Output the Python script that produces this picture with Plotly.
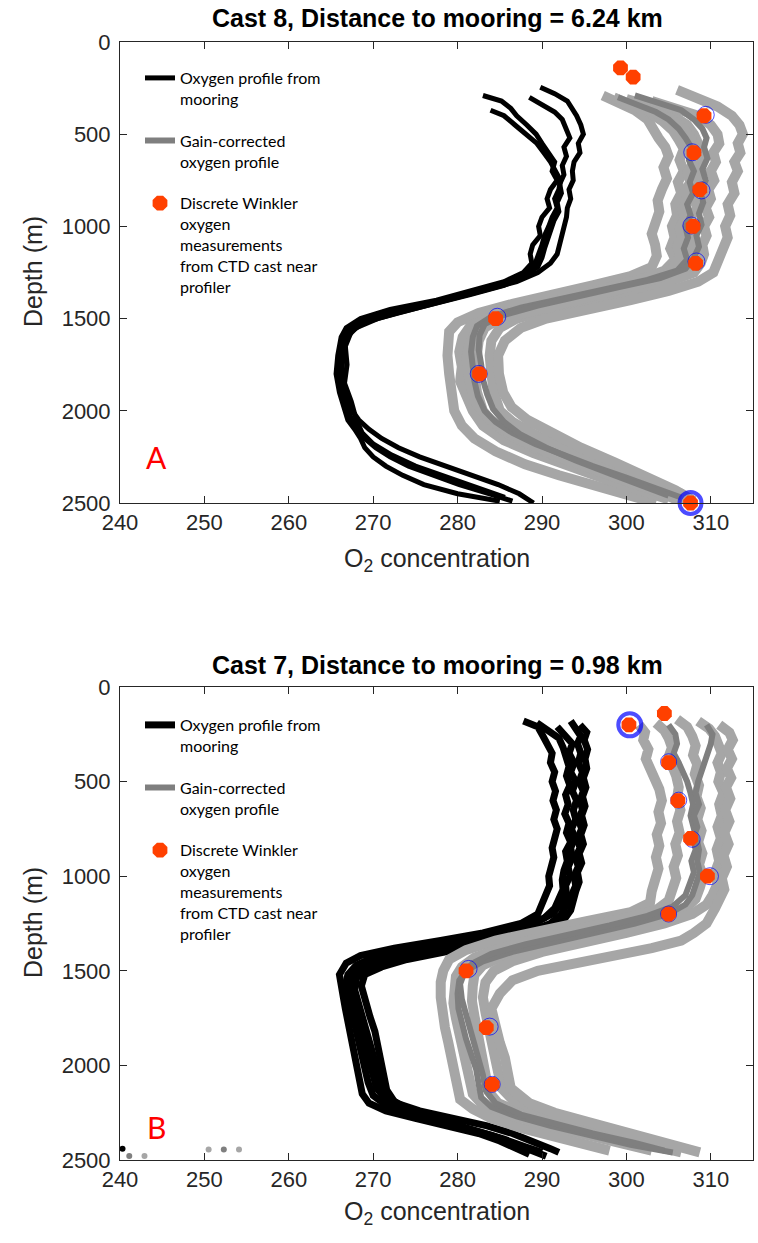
import plotly.graph_objects as go

W, H = 758, 1243

# ---------------- Cast 8 (panel A) ----------------
a_title = "Cast 8, Distance to mooring = 6.24 km"

# Oxygen profiles from the mooring: (depth m, O2)
a_moor1 = [(290, 283.0), (320, 285.2), (360, 286.3), (400, 287.0), (450, 288.2), (500, 289.3), (550, 290.0),
           (600, 290.8), (650, 291.5), (700, 291.2), (750, 291.8), (800, 291.0), (850, 290.6), (900, 290.9),
           (950, 290.0), (1000, 289.6), (1050, 289.8), (1100, 288.9), (1150, 288.6), (1200, 288.8), (1250, 287.8),
           (1300, 285.5), (1350, 281.5), (1400, 277.5), (1450, 272.0), (1500, 268.5), (1550, 266.8), (1600, 266.2),
           (1700, 265.8), (1800, 265.6), (1900, 266.0), (2000, 266.6), (2050, 267.0), (2100, 267.8), (2150, 268.5),
           (2200, 269.0), (2250, 270.0), (2300, 271.5), (2350, 273.5), (2400, 276.0), (2450, 280.0), (2490, 285.0)]
a_moor2 = [(370, 283.9), (400, 285.5), (450, 286.8), (500, 288.0), (550, 289.4), (600, 290.2), (650, 291.0),
           (700, 291.6), (750, 292.2), (800, 292.0), (850, 291.5), (900, 291.8), (950, 291.2), (1000, 290.8),
           (1050, 290.3), (1100, 290.0), (1150, 289.6), (1200, 289.2), (1250, 288.4), (1300, 286.3), (1350, 282.5),
           (1400, 278.5), (1450, 273.5), (1500, 269.5), (1550, 267.3), (1600, 266.6), (1700, 266.2), (1800, 266.0),
           (1900, 266.4), (2000, 267.0), (2100, 268.0), (2150, 269.0), (2200, 270.3), (2250, 272.0), (2300, 274.2),
           (2350, 277.0), (2400, 280.2), (2450, 283.8), (2490, 286.5)]
a_moor3 = [(245, 289.8), (280, 291.5), (320, 293.0), (360, 293.6), (400, 294.1), (450, 294.6), (500, 294.9),
           (550, 294.3), (600, 294.5), (650, 293.8), (700, 293.6), (750, 293.7), (800, 293.2), (850, 293.4),
           (900, 293.0), (950, 292.9), (1000, 292.6), (1050, 292.4), (1100, 292.0), (1150, 291.8), (1200, 291.0),
           (1250, 289.5), (1300, 287.0), (1350, 283.0), (1400, 278.8), (1450, 274.5), (1500, 270.5), (1550, 268.0),
           (1600, 266.9), (1700, 266.4), (1800, 266.3), (1900, 266.8), (2000, 267.5), (2050, 268.3), (2100, 269.5),
           (2150, 271.0), (2200, 273.0), (2250, 275.5), (2300, 278.5), (2350, 281.8), (2400, 284.8), (2450, 287.3),
           (2500, 289.0)]
a_moor4 = [(300, 288.5), (340, 290.0), (380, 291.5), (420, 292.4), (470, 292.8), (520, 293.3), (570, 292.6),
           (620, 292.9), (670, 292.4), (720, 292.6), (770, 292.1), (820, 292.3), (870, 291.8), (920, 292.0),
           (970, 291.4), (1020, 291.0), (1070, 290.7), (1120, 290.3), (1170, 290.0), (1220, 289.5), (1270, 288.0),
           (1320, 285.5), (1370, 281.5), (1420, 277.0), (1470, 272.8), (1520, 269.0), (1570, 267.4), (1650, 266.7),
           (1750, 266.9), (1850, 266.6), (1950, 267.4), (2050, 268.0), (2120, 268.7), (2180, 270.0), (2240, 272.2),
           (2300, 275.0), (2360, 278.8), (2420, 282.5), (2470, 285.6)]

# Gain-corrected profiles (light grey)
a_gain1 = [(290, 297.2), (330, 299.5), (370, 301.0), (420, 302.5), (470, 303.0), (520, 303.8), (570, 304.6),
           (620, 305.0), (680, 304.4), (740, 304.8), (800, 304.2), (860, 303.7), (920, 303.9), (980, 303.3),
           (1040, 303.0), (1100, 303.4), (1160, 303.6), (1220, 303.0), (1270, 300.5), (1320, 296.0), (1370, 291.0),
           (1420, 286.5), (1470, 282.5), (1520, 280.0), (1570, 279.0), (1620, 278.9), (1700, 278.8), (1800, 279.0),
           (1900, 279.2), (2000, 279.6), (2080, 280.5), (2150, 282.0), (2220, 284.5), (2290, 288.0), (2350, 292.0),
           (2410, 296.5), (2460, 300.5), (2500, 303.5)]
a_gain2 = [(300, 298.5), (340, 300.8), (380, 302.6), (430, 304.3), (480, 305.5), (530, 306.2), (580, 306.8),
           (640, 306.3), (700, 306.8), (760, 306.1), (820, 306.5), (880, 305.8), (940, 306.0), (1000, 305.4),
           (1060, 305.7), (1120, 305.2), (1180, 305.8), (1240, 304.5), (1290, 301.5), (1340, 297.0), (1390, 292.5),
           (1440, 288.0), (1490, 284.0), (1540, 281.5), (1600, 280.6), (1680, 280.2), (1760, 280.5), (1840, 280.3),
           (1920, 281.0), (2000, 281.8), (2080, 283.0), (2160, 285.5), (2230, 289.0), (2300, 293.0), (2370, 297.5),
           (2430, 301.5), (2480, 305.0)]
a_gain3 = [(310, 300.0), (350, 303.0), (400, 305.5), (450, 307.2), (500, 308.0), (550, 308.6), (600, 309.0),
           (650, 308.4), (700, 309.0), (750, 308.3), (800, 308.7), (850, 308.0), (900, 308.4), (950, 307.6),
           (1000, 307.9), (1050, 307.4), (1100, 307.8), (1150, 307.2), (1200, 307.5), (1250, 306.0), (1300, 302.5),
           (1350, 298.0), (1400, 293.0), (1450, 288.5), (1500, 285.0), (1550, 283.2), (1620, 282.5), (1700, 282.3),
           (1800, 282.0), (1900, 282.3), (2000, 283.0), (2070, 284.3), (2140, 286.5), (2210, 289.5), (2280, 293.5),
           (2350, 298.0), (2420, 302.5), (2470, 305.5), (2510, 307.6)]
a_gain4 = [(320, 303.0), (360, 306.0), (400, 308.5), (450, 310.0), (500, 310.8), (550, 311.0), (600, 310.3),
           (650, 310.6), (700, 310.0), (750, 310.4), (800, 309.7), (850, 310.0), (900, 309.4), (950, 309.8),
           (1000, 309.2), (1050, 309.5), (1100, 309.0), (1150, 309.2), (1200, 308.8), (1250, 308.0), (1300, 305.0),
           (1350, 300.5), (1400, 295.5), (1450, 291.0), (1500, 287.0), (1550, 285.0), (1620, 284.0), (1700, 283.8),
           (1800, 284.0), (1900, 284.3), (2000, 285.0), (2060, 286.5), (2120, 288.8), (2180, 291.5), (2250, 295.5),
           (2320, 299.5), (2390, 303.5), (2450, 306.5), (2500, 308.0)]
a_gain5 = [(260, 306.0), (300, 308.5), (350, 310.8), (400, 312.5), (450, 313.4), (500, 313.8), (550, 313.2),
           (600, 313.5), (650, 312.8), (700, 313.2), (760, 312.5), (820, 312.8), (880, 312.0), (940, 312.3),
           (1000, 311.7), (1060, 312.0), (1120, 311.4), (1180, 311.0), (1250, 310.3), (1300, 308.5), (1350, 305.0),
           (1400, 300.5), (1450, 295.5), (1500, 290.5), (1550, 287.5), (1620, 285.6), (1700, 284.8), (1800, 284.9),
           (1900, 285.4), (1980, 286.4), (2050, 288.3), (2120, 291.0), (2200, 294.6), (2280, 298.6), (2360, 302.6),
           (2430, 305.8), (2490, 308.0)]
a_gain6 = [(330, 299.5), (370, 302.5), (410, 305.0), (460, 306.5), (510, 307.5), (560, 308.0), (610, 307.5),
           (660, 307.9), (710, 307.2), (760, 307.6), (810, 306.9), (860, 307.3), (910, 306.6), (960, 306.9),
           (1010, 306.3), (1060, 306.6), (1110, 306.0), (1160, 306.4), (1210, 305.8), (1260, 305.0), (1310, 302.0),
           (1360, 297.5), (1410, 292.5), (1460, 288.0), (1510, 284.5), (1560, 282.3), (1640, 281.4), (1720, 281.0),
           (1800, 281.2), (1880, 281.6), (1960, 282.2), (2040, 283.6), (2110, 285.8), (2180, 288.5), (2250, 292.0),
           (2320, 296.0), (2390, 300.5), (2450, 304.5), (2500, 307.0)]

# Gain-corrected profiles (dark grey)
a_gain_dk1 = [(300, 299.0), (340, 301.5), (380, 303.5), (420, 305.0), (470, 306.2), (520, 307.0), (580, 307.8),
              (640, 307.4), (700, 308.0), (760, 307.5), (820, 307.9), (880, 307.2), (940, 307.6), (1000, 307.0),
              (1060, 307.3), (1120, 306.8), (1180, 307.2), (1240, 306.0), (1290, 302.5), (1340, 297.5),
              (1390, 292.5), (1440, 287.5), (1490, 284.0), (1540, 282.3), (1600, 281.8), (1680, 281.6),
              (1760, 281.8), (1840, 282.0), (1920, 282.4), (2000, 283.2), (2060, 284.5), (2120, 286.5),
              (2180, 289.2), (2240, 292.5), (2300, 296.0), (2360, 299.8), (2420, 303.5), (2470, 306.5)]
a_gain_dk2 = [(290, 301.0), (330, 304.0), (370, 306.5), (420, 308.0), (470, 309.0), (520, 309.5), (570, 309.2),
              (630, 309.6), (690, 309.0), (750, 309.4), (810, 308.8), (870, 309.1), (930, 308.6), (990, 308.9),
              (1050, 308.3), (1110, 308.6), (1170, 308.0), (1230, 307.0), (1280, 304.0), (1330, 299.0),
              (1380, 294.0), (1430, 289.5), (1480, 285.5), (1530, 283.2), (1590, 282.6), (1670, 282.5),
              (1750, 282.8), (1830, 283.0), (1910, 283.5), (1990, 284.2), (2060, 285.5), (2130, 287.5),
              (2200, 290.5), (2270, 294.0), (2340, 298.0), (2400, 301.5), (2460, 305.0)]

# Discrete Winkler samples and profile values at those depths
a_winkler = [(140, 299.3), (190, 300.8), (400, 309.2), (600, 308.0), (800, 308.7), (1000, 307.9), (1200, 308.2),
             (1500, 284.5), (1800, 282.6), (2500, 307.6)]
a_ring = [(395, 309.4), (598, 307.8), (805, 308.9), (995, 307.7), (1190, 308.3), (1490, 284.7), (1800, 282.5),
          (2500, 307.6)]
a_ring_size = [17, 17, 17, 17, 17, 17, 17, 22]

# ---------------- Cast 7 (panel B) ----------------
b_title = "Cast 7, Distance to mooring = 0.98 km"

b_moor1 = [(180, 287.8), (210, 289.5), (250, 290.0), (300, 290.6), (350, 291.2), (400, 291.0), (450, 291.5),
           (500, 291.2), (550, 291.6), (600, 291.3), (650, 291.7), (700, 291.4), (750, 291.8), (800, 291.5),
           (850, 291.2), (900, 291.4), (950, 291.0), (1000, 290.8), (1050, 290.9), (1100, 290.4), (1150, 290.0),
           (1200, 289.5), (1250, 287.5), (1300, 283.0), (1340, 278.0), (1380, 272.5), (1420, 268.5), (1460, 266.8),
           (1520, 266.0), (1600, 266.2), (1650, 266.5), (1700, 266.7), (1800, 267.1), (1900, 267.6), (2000, 268.0),
           (2050, 268.3), (2100, 268.5), (2150, 268.7), (2200, 269.5), (2240, 271.5), (2280, 275.0), (2320, 279.0),
           (2360, 282.5), (2400, 285.0), (2440, 287.0), (2470, 288.5)]
b_moor2 = [(190, 289.4), (230, 290.8), (270, 292.0), (320, 292.5), (370, 292.8), (420, 293.2), (470, 292.9),
           (520, 293.3), (570, 292.8), (620, 293.1), (670, 292.7), (720, 293.2), (770, 292.9), (820, 293.4),
           (870, 292.8), (920, 293.0), (970, 292.6), (1020, 292.4), (1070, 292.5), (1120, 292.1), (1170, 291.5),
           (1220, 290.3), (1270, 288.0), (1310, 284.5), (1350, 279.5), (1390, 274.0), (1430, 270.0), (1470, 268.0),
           (1520, 267.0), (1560, 266.8), (1620, 267.0), (1700, 267.4), (1780, 267.8), (1860, 268.2), (1940, 268.6),
           (2020, 269.0), (2090, 269.4), (2160, 270.0), (2210, 271.5), (2250, 274.0), (2290, 277.5), (2330, 281.0),
           (2370, 284.0), (2410, 286.5), (2450, 289.0), (2480, 290.5)]
b_moor3 = [(180, 293.4), (220, 294.0), (260, 294.6), (300, 294.2), (350, 294.6), (400, 294.3), (450, 294.8),
           (500, 294.4), (550, 294.9), (600, 294.5), (650, 294.8), (700, 294.3), (750, 294.7), (800, 294.2),
           (850, 294.5), (900, 294.0), (950, 294.3), (1000, 293.8), (1050, 294.0), (1100, 293.5), (1150, 293.0),
           (1200, 292.3), (1250, 291.0), (1290, 288.5), (1330, 285.0), (1370, 280.0), (1410, 275.0), (1450, 271.0),
           (1490, 269.0), (1540, 268.0), (1600, 267.8), (1680, 268.3), (1760, 268.8), (1840, 269.5), (1920, 270.0),
           (2000, 270.5), (2080, 270.8), (2150, 271.3), (2200, 272.8), (2240, 275.5), (2280, 279.5), (2320, 283.5),
           (2360, 286.5), (2400, 289.0), (2440, 291.0), (2460, 292.0)]
b_moor4 = [(200, 294.5), (240, 295.3), (280, 295.0), (330, 295.4), (380, 295.1), (430, 295.3), (480, 294.9),
           (530, 295.2), (580, 294.8), (630, 295.1), (680, 294.7), (730, 295.0), (780, 294.6), (830, 294.9),
           (880, 294.4), (930, 294.7), (980, 294.2), (1030, 294.4), (1080, 294.0), (1130, 293.8), (1180, 293.4),
           (1230, 292.6), (1280, 290.5), (1320, 287.5), (1360, 283.0), (1400, 278.5), (1440, 274.0), (1480, 271.0),
           (1520, 269.0), (1580, 268.6), (1660, 269.0), (1740, 269.6), (1820, 270.2), (1900, 270.6), (1980, 271.0),
           (2060, 271.3), (2130, 271.6), (2190, 272.5), (2240, 274.5), (2290, 278.0), (2340, 282.0), (2390, 285.5),
           (2430, 288.0), (2460, 290.0)]
b_moor5 = [(210, 291.8), (250, 292.5), (300, 293.6), (350, 293.2), (400, 293.8), (450, 293.4), (500, 294.0),
           (550, 293.6), (600, 294.1), (650, 293.7), (700, 294.0), (750, 293.5), (800, 293.9), (850, 293.4),
           (900, 293.6), (950, 293.1), (1000, 293.3), (1050, 292.8), (1100, 292.9), (1150, 292.2), (1200, 291.2),
           (1250, 289.0), (1290, 286.5), (1330, 282.5), (1370, 277.5), (1410, 273.0), (1450, 269.8), (1500, 268.0),
           (1560, 267.3), (1640, 267.5), (1720, 268.0), (1800, 268.5), (1880, 269.0), (1960, 269.6), (2040, 270.0),
           (2120, 270.4), (2180, 271.5), (2230, 273.5), (2280, 277.0), (2330, 281.0), (2380, 284.5), (2420, 287.0),
           (2450, 289.0)]

b_gain1 = [(200, 301.5), (240, 302.2), (280, 302.0), (330, 302.6), (380, 302.3), (430, 302.8), (480, 303.4),
           (540, 303.9), (600, 304.2), (660, 303.8), (720, 304.1), (780, 303.6), (840, 303.9), (900, 303.5),
           (960, 303.8), (1020, 303.3), (1080, 303.0), (1140, 302.8), (1190, 300.5), (1240, 295.0), (1290, 289.5),
           (1340, 284.5), (1390, 281.0), (1440, 279.0), (1500, 278.3), (1560, 278.0), (1640, 278.0), (1720, 278.2),
           (1800, 278.5), (1880, 278.9), (1960, 279.3), (2040, 279.6), (2120, 279.8), (2180, 280.3), (2230, 281.8),
           (2280, 284.0), (2330, 287.5), (2380, 291.5), (2420, 295.5), (2450, 298.0)]
b_gain2 = [(190, 303.5), (230, 304.5), (270, 305.0), (320, 305.4), (370, 305.0), (420, 305.6), (470, 305.9),
           (530, 306.2), (590, 306.0), (650, 306.4), (710, 306.0), (770, 306.3), (830, 305.8), (890, 306.1),
           (950, 305.6), (1010, 305.9), (1070, 305.4), (1130, 305.0), (1180, 303.5), (1230, 299.5), (1280, 294.5),
           (1330, 289.5), (1380, 285.0), (1430, 282.0), (1480, 280.5), (1530, 279.8), (1590, 279.6), (1670, 279.5),
           (1750, 279.8), (1830, 280.2), (1910, 280.7), (1990, 281.2), (2070, 281.5), (2150, 281.8), (2210, 283.0),
           (2260, 286.0), (2310, 290.0), (2360, 294.5), (2410, 299.5), (2450, 303.0)]
b_gain3 = [(170, 306.0), (210, 307.2), (260, 307.8), (310, 308.2), (360, 307.9), (410, 308.4), (460, 308.1),
           (520, 308.6), (580, 308.3), (640, 308.8), (700, 308.4), (760, 308.9), (820, 308.5), (880, 309.0),
           (940, 308.6), (1000, 309.1), (1060, 308.7), (1120, 308.2), (1170, 307.0), (1220, 304.0), (1270, 299.5),
           (1320, 294.5), (1370, 289.5), (1420, 285.5), (1470, 283.0), (1520, 282.0), (1580, 281.8), (1660, 281.7),
           (1740, 282.0), (1820, 282.3), (1900, 282.7), (1980, 283.1), (2060, 283.4), (2140, 283.7), (2200, 284.8),
           (2250, 287.5), (2300, 291.5), (2350, 296.0), (2400, 301.0), (2440, 305.0), (2460, 306.5)]
b_gain4 = [(180, 308.5), (220, 309.8), (260, 310.5), (300, 310.9), (350, 311.3), (400, 310.8), (450, 311.2),
           (500, 310.9), (560, 311.5), (620, 311.0), (680, 311.3), (740, 310.8), (800, 311.2), (860, 310.7),
           (920, 311.0), (980, 310.5), (1040, 310.8), (1100, 310.2), (1150, 309.5), (1200, 307.8), (1250, 304.5),
           (1300, 300.0), (1350, 295.0), (1400, 290.0), (1450, 286.5), (1500, 284.3), (1560, 283.3), (1640, 283.0),
           (1720, 283.3), (1800, 283.7), (1880, 284.1), (1960, 284.5), (2040, 284.8), (2120, 285.2), (2180, 286.5),
           (2230, 289.0), (2280, 292.5), (2330, 296.5), (2380, 300.5), (2420, 304.0), (2450, 306.0)]
b_gain5 = [(200, 311.0), (240, 312.2), (280, 312.6), (330, 312.0), (380, 312.5), (430, 311.9), (480, 312.4),
           (530, 311.8), (590, 312.3), (650, 311.7), (710, 312.2), (770, 311.6), (830, 312.1), (890, 311.5),
           (950, 311.9), (1010, 311.3), (1070, 311.6), (1120, 310.9), (1170, 310.5), (1210, 310.0), (1250, 309.5),
           (1300, 308.0), (1340, 306.5), (1380, 303.0), (1420, 298.5), (1460, 293.5), (1500, 289.5), (1550, 286.5),
           (1620, 285.0), (1700, 284.0), (1800, 284.4), (1880, 285.0), (1960, 285.6), (2040, 286.0), (2120, 286.3),
           (2200, 288.5), (2250, 291.5), (2300, 295.5), (2350, 300.0), (2400, 304.5), (2440, 307.5), (2460, 308.7)]

b_gain_dk1 = [(200, 305.0), (250, 305.8), (300, 306.0), (350, 305.6), (400, 306.2), (450, 306.8), (500, 307.2),
              (560, 307.6), (620, 307.9), (680, 307.6), (740, 308.0), (800, 308.3), (860, 308.6), (920, 308.4),
              (980, 308.7), (1040, 308.2), (1100, 307.8), (1150, 307.0), (1200, 305.0), (1250, 301.0),
              (1300, 296.0), (1350, 291.0), (1400, 286.5), (1450, 283.0), (1500, 281.0), (1550, 280.2),
              (1620, 280.0), (1700, 280.1), (1780, 280.5), (1860, 281.0), (1940, 281.6), (2020, 282.2),
              (2100, 282.5), (2170, 282.8), (2220, 284.0), (2270, 287.0), (2320, 291.0), (2370, 295.5),
              (2420, 300.5), (2460, 305.5)]
b_gain_dk2 = [(200, 309.5), (250, 310.2), (300, 310.0), (350, 309.6), (400, 309.2), (450, 308.8), (500, 308.5),
              (560, 308.2), (620, 308.6), (680, 308.0), (740, 308.4), (800, 307.9), (860, 308.2), (920, 307.7),
              (980, 308.0), (1040, 307.5), (1100, 307.0), (1160, 305.5), (1210, 302.5), (1260, 298.0),
              (1310, 293.0), (1360, 288.0), (1410, 284.0), (1460, 281.8), (1510, 280.8), (1570, 280.3),
              (1650, 280.5), (1730, 281.0), (1810, 281.5), (1890, 282.0), (1970, 282.6), (2050, 283.0),
              (2130, 283.3), (2200, 284.5), (2260, 287.5), (2310, 291.5), (2360, 296.0), (2410, 301.0),
              (2450, 304.5)]

# Stray near-bottom samples at the low end of the axis
b_stray_black = [(2440, 240.3)]
b_stray_dark = [(2479, 241.1), (2445, 252.3)]
b_stray_light = [(2479, 242.9), (2445, 250.5), (2445, 254.1)]

b_winkler = [(140, 304.5), (200, 300.3), (400, 305.0), (600, 306.1), (800, 307.6), (1000, 309.6), (1200, 305.0),
             (1500, 281.0), (1800, 283.4), (2100, 284.1)]
b_ring = [(200, 300.4), (395, 305.0), (598, 306.2), (805, 307.8), (1000, 309.9), (1200, 305.0), (1490, 281.3),
          (1795, 283.8), (2100, 284.1)]
b_ring_size = [23, 16, 16, 16, 17, 16, 17, 17, 16]

# ---------------- Axes ----------------
x_ticks = [240, 250, 260, 270, 280, 290, 300, 310]
depth_ticks = [0, 500, 1000, 1500, 2000, 2500]
x_range = [240, 315]
depth_range = [2500, 0]

BLACK = "#000000"
LIGHT = "#a6a6a6"
DARK = "#7f7f7f"
ORANGE = "#ff4000"
BLUE = "#0000ff"
AXIS = "#262626"

fig = go.Figure()


def add_profile(pairs, color, width, xa, ya, name=None, group=None, legend="legend"):
    depth = [p[0] for p in pairs]
    o2 = [p[1] for p in pairs]
    fig.add_trace(go.Scatter(
        x=o2, y=depth, mode="lines", xaxis=xa, yaxis=ya,
        line=dict(color=color, width=width),
        name=name or "", showlegend=name is not None,
        legendgroup=group, legend=legend, hoverinfo="skip"))


def add_points(pairs, color, size, xa, ya):
    fig.add_trace(go.Scatter(
        x=[p[1] for p in pairs], y=[p[0] for p in pairs], mode="markers", xaxis=xa, yaxis=ya,
        cliponaxis=False, marker=dict(color=color, size=size, line=dict(width=0)),
        showlegend=False, hoverinfo="skip"))


def draw_panel(moor, moor_width, light, dark, rings, ring_sizes, winkler, xa, ya, legend):
    for i, prof in enumerate(moor):
        add_profile(prof, BLACK, moor_width, xa, ya,
                    name="Oxygen profile from<br>mooring" if i == 0 else None,
                    group="moor", legend=legend)
    for prof in light:
        add_profile(prof, LIGHT, 10, xa, ya)
    for i, prof in enumerate(dark):
        add_profile(prof, DARK, 6, xa, ya,
                    name="Gain-corrected<br>oxygen profile" if i == 0 else None,
                    group="gain", legend=legend)
    fig.add_trace(go.Scatter(
        x=[p[1] for p in rings], y=[p[0] for p in rings], mode="markers",
        xaxis=xa, yaxis=ya, cliponaxis=False, showlegend=False, hoverinfo="skip",
        marker=dict(symbol="circle-open", size=ring_sizes, color=BLUE,
                    line=dict(color=BLUE, width=[4 if s > 20 else 1 for s in ring_sizes]))))
    fig.add_trace(go.Scatter(
        x=[p[1] for p in winkler], y=[p[0] for p in winkler], mode="markers",
        xaxis=xa, yaxis=ya, cliponaxis=False, hoverinfo="skip",
        marker=dict(symbol="octagon", size=16, color=ORANGE, line=dict(width=0)),
        name="Discrete Winkler<br>oxygen<br>measurements<br>from CTD cast near<br>profiler",
        legendgroup="wink", legend=legend))


draw_panel([a_moor1, a_moor2, a_moor3, a_moor4], 5,
           [a_gain1, a_gain2, a_gain3, a_gain4, a_gain5, a_gain6],
           [a_gain_dk1, a_gain_dk2], a_ring, a_ring_size, a_winkler, "x", "y", "legend")

add_points(b_stray_black, BLACK, 6, "x2", "y2")
add_points(b_stray_dark, DARK, 6, "x2", "y2")
add_points(b_stray_light, LIGHT, 6, "x2", "y2")
draw_panel([b_moor1, b_moor2, b_moor3, b_moor4, b_moor5], 7,
           [b_gain1, b_gain2, b_gain3, b_gain4, b_gain5],
           [b_gain_dk1, b_gain_dk2], b_ring, b_ring_size, b_winkler, "x2", "y2", "legend2")

TICK_FONT = dict(family="Liberation Sans, Arial, sans-serif", size=22, color=AXIS)


def xaxis_style(anchor):
    return dict(domain=[120 / W, 753 / W], range=x_range, anchor=anchor, automargin=False,
                tickmode="array", tickvals=x_ticks, ticks="inside", ticklen=7,
                tickcolor=AXIS, showline=True, linecolor=AXIS, linewidth=1,
                mirror="ticks", showgrid=False, zeroline=False, tickfont=TICK_FONT)


def yaxis_style(anchor, top, bottom):
    return dict(domain=[1 - bottom / H, 1 - top / H], range=depth_range, anchor=anchor, automargin=False,
                tickmode="array", tickvals=depth_ticks, ticks="inside", ticklen=7,
                tickcolor=AXIS, showline=True, linecolor=AXIS, linewidth=1,
                mirror="ticks", showgrid=False, zeroline=False, tickfont=TICK_FONT,
                ticklabelstandoff=4)


legend_style = dict(xanchor="left", yanchor="top", bgcolor="rgba(0,0,0,0)",
                    font=dict(family="Lato, Carlito, sans-serif", size=16, color="#000000"),
                    tracegroupgap=18, valign="top", itemwidth=30)

fig.update_layout(
    width=W, height=H, margin=dict(l=0, r=0, t=0, b=0, autoexpand=False),
    paper_bgcolor="white", plot_bgcolor="white",
    xaxis=xaxis_style("y"), yaxis=yaxis_style("x", 42, 503),
    xaxis2=xaxis_style("y2"), yaxis2=yaxis_style("x2", 687, 1160),
    legend=dict(x=140 / W, y=1 - 61 / H, **legend_style),
    legend2=dict(x=140 / W, y=1 - 708 / H, **legend_style),
)

TITLE_FONT = dict(family="Liberation Sans, Arial, sans-serif", size=25, color="#000000")
LABEL_FONT = dict(family="Liberation Sans, Arial, sans-serif", size=25, color=AXIS)
PANEL_FONT = dict(family="Lato, Carlito, sans-serif", size=30, color="#ff0000")

panels = [(a_title, 18, 560, 272, "A", 457), (b_title, 665, 1213, 923, "B", 1127)]
for title, ty, xy, yy, tag, tagy in panels:
    fig.add_annotation(text=f"<b>{title}</b>", x=437 / W, y=1 - ty / H, xref="paper", yref="paper",
                       showarrow=False, xanchor="center", yanchor="middle", font=TITLE_FONT)
    fig.add_annotation(text="O<sub>2</sub> concentration", x=437 / W, y=1 - xy / H, xref="paper",
                       yref="paper", showarrow=False, xanchor="center", yanchor="middle", font=LABEL_FONT)
    fig.add_annotation(text="Depth (m)", x=33 / W, y=1 - yy / H, xref="paper", yref="paper",
                       showarrow=False, xanchor="center", yanchor="middle", textangle=-90, font=LABEL_FONT)
    fig.add_annotation(text=tag, x=156 / W, y=1 - tagy / H, xref="paper", yref="paper",
                       showarrow=False, xanchor="center", yanchor="middle", font=PANEL_FONT)

fig.write_html("out.html")
